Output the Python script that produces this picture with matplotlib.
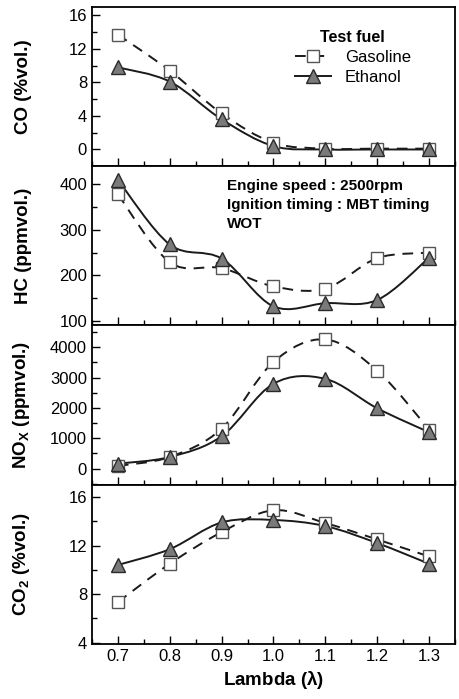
import numpy as np
import matplotlib
matplotlib.use('Agg')
import matplotlib.pyplot as plt
from matplotlib.path import Path
from matplotlib.patches import PathPatch
from matplotlib.lines import Line2D
from matplotlib.ticker import MultipleLocator

plt.rcParams['font.family'] = ['Liberation Sans', 'DejaVu Sans']
plt.rcParams['mathtext.fontset'] = 'custom'
plt.rcParams['mathtext.rm'] = 'Liberation Sans'
plt.rcParams['mathtext.bf'] = 'Liberation Sans:bold'

# lambda (excess air ratio)
lam = [0.7, 0.8, 0.9, 1.0, 1.1, 1.2, 1.3]

co_gas = [13.7, 9.4, 4.3, 0.8, 0.1, 0.1, 0.1]
co_eth = [9.8, 8.1, 3.6, 0.4, 0.0, 0.0, 0.0]
hc_gas = [378, 229, 216, 176, 171, 238, 250]
hc_eth = [410, 268, 237, 132, 139, 146, 239]
nox_gas = [90, 385, 1320, 3520, 4260, 3230, 1290]
nox_eth = [165, 385, 1070, 2800, 2960, 1990, 1200]
co2_gas = [7.35, 10.5, 13.1, 14.9, 13.85, 12.5, 11.1]
co2_eth = [10.4, 11.7, 13.9, 14.1, 13.6, 12.2, 10.5]

ylabels = ['CO (%vol.)', 'HC (ppmvol.)', r'NO$_\mathbf{X}$ (ppmvol.)', r'CO$_\mathbf{2}$ (%vol.)']
ylims = [(-2, 17), (90, 440), (-530, 4720), (3.9, 17)]
major = [4, 100, 1000, 4]
minor = [2, 50, 500, 2]
series = [(co_gas, co_eth), (hc_gas, hc_eth), (nox_gas, nox_eth), (co2_gas, co2_eth)]

gas_ls = (0, (5.5, 4))
line_c = '#1a1a1a'


def smooth_path(x, y):
    """catmull-rom curve through the points, as bezier path"""
    p = np.column_stack([x, y]).astype(float)
    pts = np.vstack([p[0], p, p[-1]])
    verts = [p[0]]
    codes = [Path.MOVETO]
    for i in range(1, len(pts) - 2):
        c1 = pts[i] + (pts[i + 1] - pts[i - 1]) / 6
        c2 = pts[i + 1] - (pts[i + 2] - pts[i]) / 6
        verts += [c1, c2, pts[i + 1]]
        codes += [Path.CURVE4] * 3
    return Path(verts, codes)


fig, axes = plt.subplots(4, 1, figsize=(4.59, 6.99), dpi=100, sharex=True)
fig.subplots_adjust(left=0.2004, right=0.9913, top=0.99, bottom=0.0787, hspace=0)

for k, ax in enumerate(axes):
    gas, eth = series[k]
    ax.add_patch(PathPatch(smooth_path(lam, gas), fill=False, ec=line_c, lw=1.4, ls=gas_ls, zorder=2))
    ax.add_patch(PathPatch(smooth_path(lam, eth), fill=False, ec=line_c, lw=1.4, zorder=2))
    ax.plot(lam, gas, ls='none', marker='s', ms=8, mfc='white', mec='#555555', mew=1.0, zorder=3)
    ax.plot(lam, eth, ls='none', marker='^', ms=10, mfc='#7a7a7a', mec='#2a2a2a', mew=1.0, zorder=3)
    ax.set_xlim(0.65, 1.35)
    ax.set_ylim(*ylims[k])
    ax.yaxis.set_major_locator(MultipleLocator(major[k]))
    ax.yaxis.set_minor_locator(MultipleLocator(minor[k]))
    ax.xaxis.set_major_locator(MultipleLocator(0.1))
    ax.xaxis.set_minor_locator(MultipleLocator(0.05))
    ax.tick_params(which='both', direction='in', top=False, right=False, labelsize=12, width=1.0)
    ax.tick_params(which='major', length=6)
    ax.tick_params(which='minor', length=3.5)
    for s in ax.spines.values():
        s.set_linewidth(1.3)
    ax.set_ylabel(ylabels[k], fontsize=13.5, fontweight='bold')
    ax.yaxis.set_label_coords(-0.165, 0.5)

axes[0].set_yticks([0, 4, 8, 12, 16])
axes[1].set_yticks([100, 200, 300, 400])
axes[2].set_yticks([0, 1000, 2000, 3000, 4000])
axes[3].set_yticks([4, 8, 12, 16])
axes[3].xaxis.set_major_formatter(plt.FuncFormatter(lambda v, p: '%.1f' % v))
axes[3].set_xlabel(r'Lambda ($\mathbf{\lambda}$)', fontsize=13.5, fontweight='bold')

handles = [
    Line2D([0], [0], color=line_c, lw=1.4, ls=gas_ls, marker='s', ms=8, mfc='white', mec='#555555'),
    Line2D([0], [0], color=line_c, lw=1.4, marker='^', ms=10, mfc='#7a7a7a', mec='#2a2a2a'),
]
leg = axes[0].legend(handles, ['Gasoline', 'Ethanol'], title='Test fuel', frameon=False,
                     loc='upper right', bbox_to_anchor=(0.91, 0.93), fontsize=12,
                     handlelength=2.2, labelspacing=0.3, borderpad=0.2)
leg.get_title().set_fontweight('bold')
leg.get_title().set_fontsize(11.5)

axes[1].text(0.372, 0.92, 'Engine speed : 2500rpm\nIgnition timing : MBT timing\nWOT',
             transform=axes[1].transAxes, ha='left', va='top', fontsize=11,
             fontweight='bold', linespacing=1.45)

fig.savefig('out.png', dpi=100)
